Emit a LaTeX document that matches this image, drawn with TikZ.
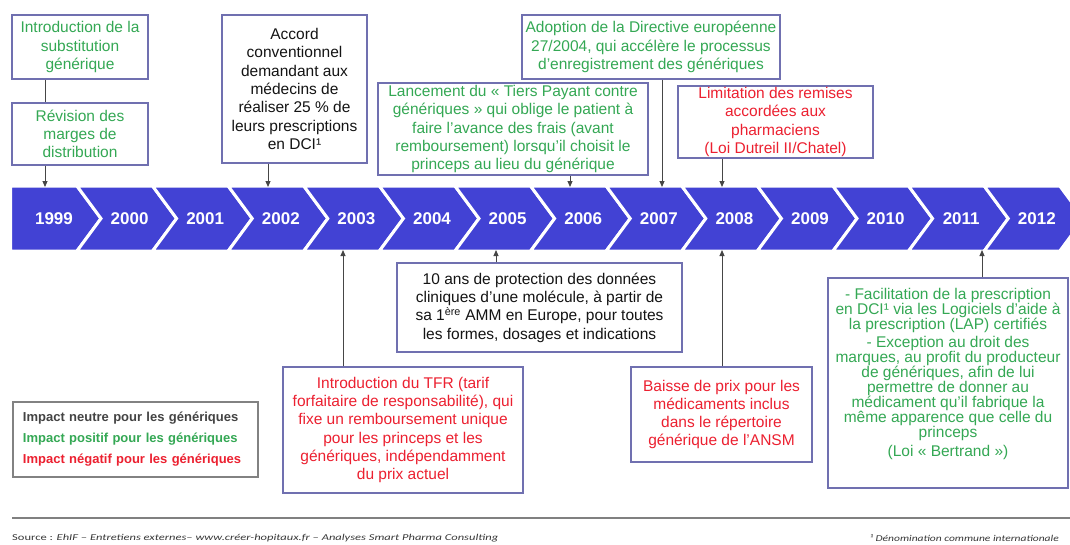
\documentclass[tikz,border=0pt]{standalone}
\usepackage{fontspec}
\setmainfont{Liberation Sans}
\newfontfamily\footfont{Carlito}
\usetikzlibrary{arrows.meta}
\definecolor{chev}{RGB}{66,66,212}
\definecolor{gtxt}{RGB}{52,168,84}
\definecolor{rtxt}{RGB}{236,32,48}
\definecolor{ntxt}{RGB}{20,20,20}
\definecolor{bord}{RGB}{112,112,176}
\definecolor{legbord}{RGB}{130,130,130}
\definecolor{connc}{RGB}{70,70,70}
\tikzset{
  evbox/.style={draw=bord, line width=1.2pt, fill=white, inner sep=0pt, align=center,
    font=\fontsize{15.5}{18.3}\selectfont},
  conn/.style={draw=connc, line width=1pt},
  arr/.style={conn, -{Triangle[length=6pt,width=5pt]}},
  yearlbl/.style={text=white, font=\bfseries\fontsize{17}{20}\selectfont},
  chevseg/.style={fill=chev, draw=white, line width=3pt, line join=miter},
  foottxt/.style={anchor=west, inner sep=0pt, text=ntxt!85!white, font=\footfont\fontsize{12.5}{14}\selectfont},
}
\begin{document}
\begin{tikzpicture}[x=1pt,y=-1pt]
\useasboundingbox (0,0) rectangle (1070,544);
\clip (0,0) rectangle (1070,544);
\fill[white] (0,0) rectangle (1070,544);

% timeline chevrons
\foreach \i/\yr in {0/1999,1/2000,2/2001,3/2002,4/2003,5/2004,6/2005,7/2006,8/2007,9/2008,10/2009,11/2010,12/2011,13/2012}{
  \pgfmathsetmacro{\tp}{101+75.6*\i}
  \pgfmathsetmacro{\tq}{101+75.6*(\i-1)}
  \ifnum\i=0
    \path[chevseg] (10.5,186) -- (\tp-24,186) -- (\tp,218.5) -- (\tp-24,251) -- (10.5,251) -- cycle;
  \else
    \path[chevseg] (\tq-24,186) -- (\tp-24,186) -- (\tp,218.5) -- (\tp-24,251) -- (\tq-24,251) -- (\tq,218.5) -- cycle;
  \fi
  \node[yearlbl] (y\yr) at (\tp-47,218.5) {\yr};
}

% boxes above
\node[evbox, text=gtxt, minimum width=136, minimum height=64] (b1) at (80,47)
  {Introduction de la\\substitution\\générique};
\node[evbox, text=gtxt, minimum width=136, minimum height=62] (b2) at (80,134)
  {Révision des\\marges de\\distribution};
\node[evbox, text=ntxt, minimum width=145, minimum height=148] (b3) at (294.5,89)
  {Accord\\conventionnel\\demandant aux\\médecins de\\réaliser 25 \% de\\leurs prescriptions\\en DCI¹};
\node[evbox, text=gtxt, minimum width=270, minimum height=92] (b4) at (513,129)
  {Lancement du « Tiers Payant contre\\génériques » qui oblige le patient à\\faire l'avance des frais (avant\\remboursement) lorsqu'il choisit le\\princeps au lieu du générique};
\node[evbox, text=gtxt, minimum width=258, minimum height=64] (b5) at (651,47)
  {Adoption de la Directive européenne\\27/2004, qui accélère le processus\\d'enregistrement des génériques};
\node[evbox, text=rtxt, minimum width=195, minimum height=72] (b6) at (775.5,122)
  {Limitation des remises\\accordées aux\\pharmaciens\\(Loi Dutreil II/Chatel)};

% boxes below
\node[evbox, text=ntxt, minimum width=285, minimum height=89] (b7) at (539.5,307.5)
  {10 ans de protection des données\\cliniques d'une molécule, à partir de\\sa 1\textsuperscript{ère} AMM en Europe, pour toutes\\les formes, dosages et indications};
\node[evbox, text=rtxt, minimum width=240, minimum height=126] (b8) at (403,430)
  {Introduction du TFR (tarif\\forfaitaire de responsabilité), qui\\fixe un remboursement unique\\pour les princeps et les\\génériques, indépendamment\\du prix actuel};
\node[evbox, text=rtxt, minimum width=181, minimum height=95] (b9) at (721.5,414.5)
  {Baisse de prix pour les\\médicaments inclus\\dans le répertoire\\générique de l'ANSM};
\node[evbox, text=gtxt, minimum width=240, minimum height=210,
      font=\fontsize{15.5}{15}\selectfont] (b10) at (948,383)
  {- Facilitation de la prescription\\en DCI¹ via les Logiciels d'aide à\\la prescription (LAP) certifiés\\[3pt]- Exception au droit des\\marques, au profit du producteur\\de génériques, afin de lui\\permettre de donner au\\médicament qu'il fabrique la\\même apparence que celle du\\princeps\\[4pt](Loi « Bertrand »)\\[6pt]\mbox{}};

% legend
\node[draw=legbord, line width=1.2pt, minimum width=245, minimum height=75,
      inner xsep=10pt, text width=225, align=left,
      font=\bfseries\fontsize{13}{21}\selectfont] (leg) at (135.5,439.5)
  {\textcolor{ntxt!80!white}{Impact neutre pour les génériques}\\
   \textcolor{gtxt}{Impact positif pour les génériques}\\
   \textcolor{rtxt}{Impact négatif pour les génériques}};

% arrow end points on the band
\coordinate (p1999) at (45,187);
\coordinate (p2002) at (268,187);
\coordinate (p2006) at (570,187);
\coordinate (p2007) at (662,187);
\coordinate (p2008) at (722,187);
\coordinate (q2003) at (343,250);
\coordinate (q2005) at (496,250);
\coordinate (q2008) at (722,250);
\coordinate (q2011) at (982,250);

\draw[conn] (b1.south -| p1999) -- (b2.north -| p1999);
\draw[arr] (b2.south -| p1999) -- (p1999);
\draw[arr] (b3.south -| p2002) -- (p2002);
\draw[arr] (b4.south -| p2006) -- (p2006);
\draw[arr] (b5.south -| p2007) -- (p2007);
\draw[arr] (b6.south -| p2008) -- (p2008);
\draw[arr] (b8.north -| q2003) -- (q2003);
\draw[arr] (b7.north -| q2005) -- (q2005);
\draw[arr] (b9.north -| q2008) -- (q2008);
\draw[arr] (b10.north -| q2011) -- (q2011);

% footer
\coordinate (fl) at (12,518);
\coordinate (fr) at (1070,518);
\draw[draw=gray, line width=1.5pt] (fl) -- (fr);
\node[foottxt] (src) at (12,538)
  {\scalebox{1}[0.72]{Source : \itshape EhIF – Entretiens externes– www.créer-hopitaux.fr – Analyses Smart Pharma Consulting}};
\node[foottxt, font=\footfont\fontsize{11.5}{13}\selectfont] (note) at (870,538)
  {\scalebox{1}[0.78]{\itshape ¹ Dénomination commune internationale}};
\end{tikzpicture}
\end{document}
